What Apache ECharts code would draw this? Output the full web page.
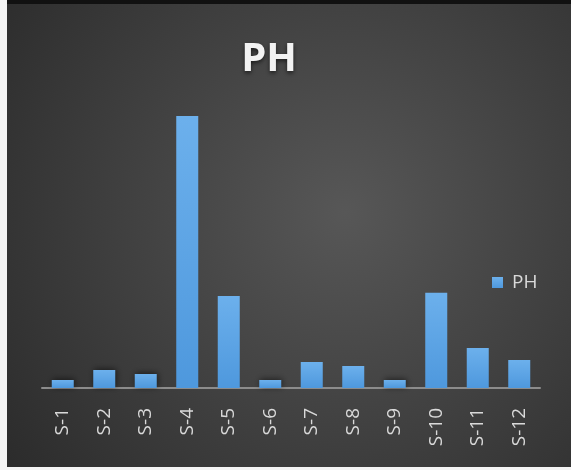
<!DOCTYPE html>
<html>
<head>
<meta charset="utf-8">
<script src="https://cdn.jsdelivr.net/npm/echarts@6/dist/echarts.min.js"></script>
<style>
  html, body { margin: 0; padding: 0; background: #f4f4f4; }
  #chart {
    position: absolute;
    left: 7px;
    top: 0;
    width: 564px;
    height: 463px;
    border-top: 4px solid #111;
  }
</style>
</head>
<body>
<div id="chart"></div>
<script>
const categories = ['S-1', 'S-2', 'S-3', 'S-4', 'S-5', 'S-6', 'S-7', 'S-8', 'S-9', 'S-10', 'S-11', 'S-12']
const phValues = [2, 4.5, 3.5, 68, 23, 2, 6.5, 5.5, 2, 23.8, 10, 7]

const myChart = echarts.init(document.getElementById('chart'))

const option = {
  backgroundColor: new echarts.graphic.RadialGradient(0.6, 0.45, 0.9, [
    { offset: 0, color: '#575757' },
    { offset: 1, color: '#2c2c2c' }
  ]),
  title: {
    text: 'PH',
    left: 257,
    top: 31,
    textAlign: 'center',
    textStyle: {
      color: '#f2f2f2',
      fontSize: 40,
      fontWeight: 'bold',
      fontFamily: 'Open Sans',
      textShadowColor: 'rgba(0,0,0,0.6)',
      textShadowBlur: 4,
      textShadowOffsetY: 2
    }
  },
  legend: {
    data: ['PH'],
    left: 480,
    top: 264,
    itemWidth: 11,
    itemHeight: 11,
    icon: 'rect',
    textStyle: { color: '#d9d9d9', fontSize: 19, fontFamily: 'Open Sans', padding: [0, 0, 0, 4] }
  },
  grid: {
    left: 35,
    right: 31,
    top: 104,
    bottom: 79
  },
  xAxis: {
    type: 'category',
    data: categories,
    axisTick: { show: false },
    axisLine: { lineStyle: { color: '#8c8c8c', width: 2 } },
    axisLabel: {
      color: '#d9d9d9',
      fontSize: 19,
      fontFamily: 'Open Sans',
      rotate: 90,
      margin: 20,
      interval: 0
    }
  },
  yAxis: {
    type: 'value',
    min: 0,
    max: 70,
    show: false
  },
  series: [
    {
      name: 'PH',
      type: 'bar',
      barWidth: '53%',
      itemStyle: {
        color: new echarts.graphic.LinearGradient(0, 0, 0, 1, [
          { offset: 0, color: '#6cb0ec' },
          { offset: 1, color: '#4e98dd' }
        ]),
        shadowColor: 'rgba(0,0,0,0.55)',
        shadowBlur: 6,
        shadowOffsetX: 1,
        shadowOffsetY: -1
      },
      data: phValues
    }
  ]
}

myChart.setOption(option)
</script>
</body>
</html>
